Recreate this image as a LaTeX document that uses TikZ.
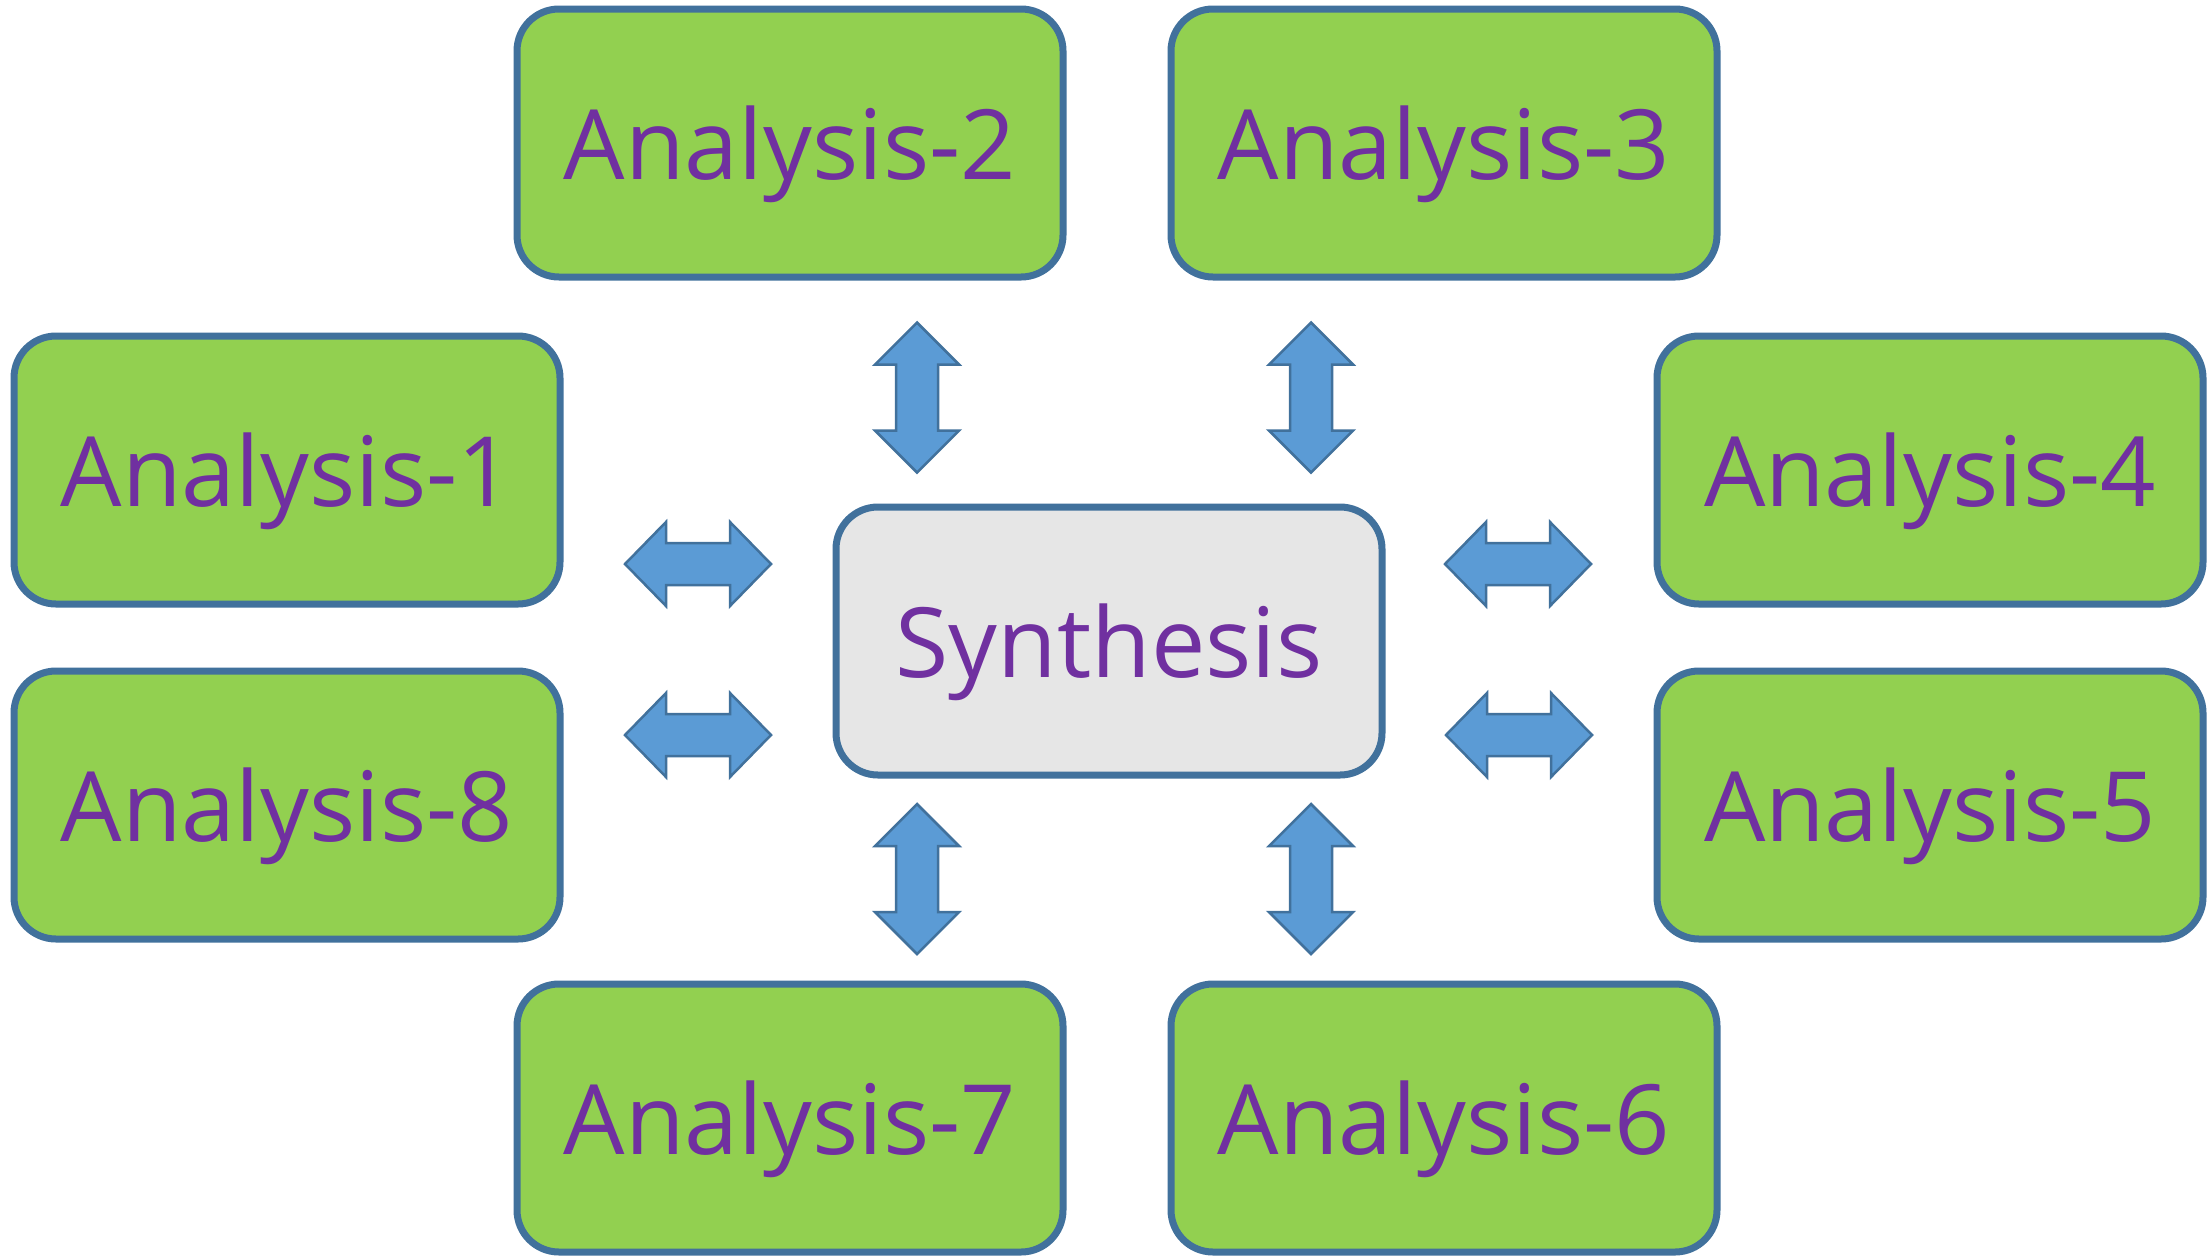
\documentclass[tikz,border=0pt]{standalone}
\usepackage{fontspec}
\setmainfont{Open Sans}
\definecolor{boxgreen}{HTML}{92D050}
\definecolor{boxline}{HTML}{41719C}
\definecolor{synfill}{HTML}{E6E6E6}
\definecolor{arrfill}{HTML}{5B9BD5}
\definecolor{txtpurple}{HTML}{7030A0}
\tikzset{
  anbox/.style={draw=boxline, line width=7pt, fill=boxgreen, rounded corners=42pt,
    minimum width=546pt, minimum height=268pt, inner sep=0pt, text depth=0pt,
    text=txtpurple, font=\fontsize{97}{110}\selectfont},
  synbox/.style={anbox, fill=synfill},
  arrst/.style={draw=boxline, line width=2.5pt, fill=arrfill, line join=miter},
  varrow/.pic={\path[arrst] (0,-75) -- (42,-33) -- (21,-33) -- (21,33) -- (42,33) -- (0,75)
      -- (-42,33) -- (-21,33) -- (-21,-33) -- (-42,-33) -- cycle;},
  harrow/.pic={\path[arrst] (-73,0) -- (-32,-42) -- (-32,-21) -- (32,-21) -- (32,-42) -- (73,0)
      -- (32,42) -- (32,21) -- (-32,21) -- (-32,42) -- cycle;}
}
\begin{document}
\begin{tikzpicture}[x=1pt,y=-1pt]
\useasboundingbox[fill=white] (0,0) rectangle (2211,1259);
\node[anbox] (a2) at (790,143) {Analysis-2};
\node[anbox] (a3) at (1444,143) {Analysis-3};
\node[anbox] (a1) at (287,470) {Analysis-1};
\node[anbox] (a4) at (1930,470) {Analysis-4};
\node[anbox] (a8) at (287,805) {Analysis-8};
\node[anbox] (a5) at (1930,805) {Analysis-5};
\node[anbox] (a7) at (790,1118) {Analysis-7};
\node[anbox] (a6) at (1444,1118) {Analysis-6};
\node[synbox] (syn) at (1109,641) {Synthesis};
\pic at (917,397.5) {varrow};
\pic at (1311,397.5) {varrow};
\pic at (917,879) {varrow};
\pic at (1311,879) {varrow};
\pic at (698,564) {harrow};
\pic at (698,735) {harrow};
\pic at (1518,564) {harrow};
\pic at (1519,735) {harrow};
\end{tikzpicture}
\end{document}
